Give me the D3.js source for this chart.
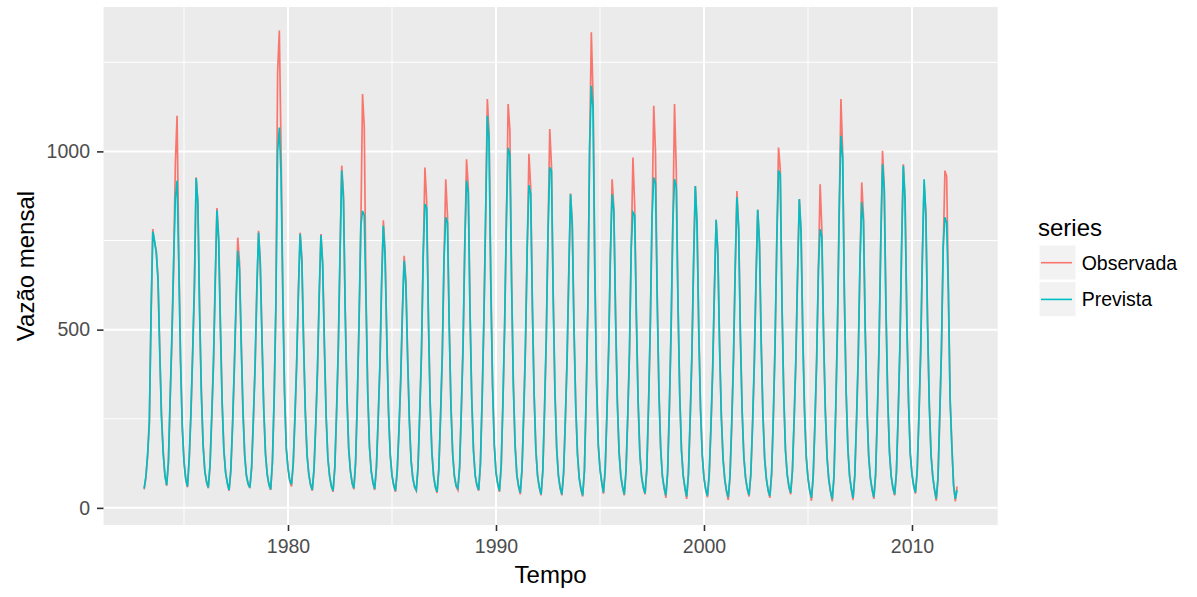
<!DOCTYPE html>
<html>
<head>
<meta charset="utf-8">
<script src="https://cdn.jsdelivr.net/npm/d3@7"></script>
<style>
body { margin: 0; background: #fff; }
text { font-family: "Liberation Sans", Arial, sans-serif; }
</style>
</head>
<body>
<script>

// monthly series, first value = Feb 1973
var startYear = 1973;
var startMonth = 2;

var observada = [
    52, 84, 145, 235, 540, 782, 745, 720, 645, 445, 262,
    159, 92, 62, 125, 300, 470, 670, 965, 1100, 700, 420, 230,
    130, 80, 58, 135, 260, 430, 610, 927, 860, 560, 330, 180,
    105, 72, 55, 115, 250, 400, 620, 841, 760, 520, 300, 165,
    100, 68, 48, 100, 225, 380, 560, 758, 690, 470, 280, 150,
    92, 66, 55, 110, 240, 390, 600, 777, 690, 480, 280, 155,
    95, 64, 50, 125, 300, 560, 1222, 1339, 1000, 620, 330, 170,
    110, 75, 60, 120, 250, 400, 600, 772, 700, 470, 270, 150,
    95, 64, 48, 105, 230, 380, 590, 768, 690, 460, 260, 140,
    90, 60, 45, 110, 260, 440, 700, 960, 880, 560, 320, 170,
    105, 68, 52, 125, 300, 520, 780, 1161, 1067, 600, 330, 175,
    105, 70, 50, 110, 240, 390, 620, 807, 720, 480, 270, 150,
    92, 62, 45, 100, 210, 350, 540, 707, 640, 430, 250, 135,
    85, 58, 48, 110, 260, 430, 700, 955, 860, 540, 300, 160,
    90, 58, 42, 105, 250, 420, 690, 922, 820, 520, 290, 155,
    90, 60, 50, 110, 270, 450, 730, 978, 900, 560, 310, 165,
    92, 62, 48, 120, 300, 520, 800, 1147, 1050, 640, 350, 180,
    100, 66, 45, 115, 290, 510, 800, 1133, 1060, 640, 350, 180,
    95, 60, 38, 105, 260, 450, 720, 993, 900, 570, 320, 165,
    90, 56, 35, 100, 270, 470, 760, 1063, 960, 600, 330, 170,
    92, 55, 35, 95, 240, 410, 650, 882, 800, 510, 290, 155,
    85, 52, 32, 100, 300, 560, 1000, 1334, 1150, 680, 360, 180,
    110, 70, 40, 105, 260, 440, 700, 922, 840, 540, 300, 160,
    90, 58, 35, 100, 250, 430, 720, 983, 850, 540, 300, 155,
    88, 56, 38, 105, 280, 500, 800, 1128, 1000, 600, 330, 170,
    90, 55, 28, 95, 270, 490, 780, 1133, 950, 580, 320, 165,
    92, 55, 25, 90, 240, 420, 680, 903, 800, 500, 280, 150,
    85, 50, 30, 90, 220, 380, 600, 808, 720, 460, 260, 140,
    80, 45, 22, 85, 230, 410, 660, 889, 790, 490, 275, 145,
    85, 52, 32, 90, 225, 395, 630, 836, 750, 470, 265, 140,
    82, 48, 28, 92, 250, 450, 740, 1011, 950, 580, 320, 165,
    95, 58, 38, 100, 240, 410, 650, 866, 780, 490, 275, 145,
    85, 48, 20, 85, 230, 410, 660, 908, 780, 490, 275, 145,
    80, 45, 18, 85, 270, 500, 820, 1147, 1000, 600, 330, 170,
    90, 52, 22, 88, 240, 420, 680, 913, 820, 510, 285, 150,
    85, 50, 25, 90, 255, 450, 740, 1002, 900, 560, 310, 160,
    90, 55, 35, 95, 250, 440, 720, 964, 870, 540, 300, 155,
    95, 60, 40, 100, 250, 430, 700, 908, 830, 520, 290, 150,
    88, 50, 20, 80, 250, 440, 720, 946, 930, 617, 309, 178,
    66, 18, 60
];

var prevista = [
    55, 88, 150, 245, 548, 775, 748, 716, 640, 436, 255,
    152, 90, 64, 130, 310, 480, 690, 870, 918, 680, 410, 225,
    128, 82, 60, 140, 270, 440, 630, 925, 850, 545, 320, 176,
    102, 74, 57, 120, 262, 412, 640, 835, 748, 505, 292, 160,
    98, 70, 50, 108, 235, 395, 575, 721, 670, 460, 270, 148,
    90, 68, 57, 115, 250, 400, 615, 772, 680, 470, 275, 150,
    93, 66, 52, 130, 310, 570, 1000, 1067, 930, 590, 320, 165,
    112, 78, 66, 125, 258, 410, 612, 768, 690, 460, 265, 146,
    93, 66, 50, 110, 238, 392, 600, 765, 680, 452, 255, 138,
    88, 62, 48, 115, 270, 450, 715, 946, 865, 548, 312, 165,
    103, 70, 55, 130, 310, 530, 790, 833, 820, 580, 320, 170,
    102, 72, 53, 115, 250, 400, 635, 791, 705, 470, 265, 146,
    90, 64, 48, 105, 220, 360, 555, 693, 628, 420, 245, 132,
    83, 60, 50, 115, 270, 440, 712, 852, 840, 530, 295, 155,
    88, 60, 45, 110, 260, 430, 700, 815, 800, 510, 285, 150,
    88, 62, 55, 115, 280, 460, 745, 918, 885, 550, 305, 160,
    90, 64, 50, 125, 310, 530, 820, 1100, 1030, 625, 345, 176,
    98, 68, 48, 120, 300, 520, 820, 1010, 990, 625, 345, 176,
    92, 62, 42, 110, 270, 460, 735, 905, 880, 560, 315, 160,
    88, 58, 38, 105, 280, 480, 775, 955, 945, 590, 325, 165,
    90, 57, 38, 100, 250, 420, 665, 880, 790, 500, 285, 150,
    83, 54, 35, 105, 310, 570, 1010, 1184, 1120, 665, 355, 176,
    108, 72, 43, 110, 270, 450, 715, 880, 830, 530, 295, 155,
    88, 60, 38, 105, 260, 440, 730, 829, 820, 530, 295, 150,
    86, 58, 41, 110, 290, 510, 815, 927, 910, 585, 325, 165,
    88, 57, 35, 100, 280, 500, 800, 922, 900, 570, 315, 160,
    90, 57, 32, 95, 250, 430, 695, 903, 790, 490, 275, 146,
    83, 52, 34, 95, 230, 390, 615, 808, 710, 450, 255, 136,
    78, 48, 30, 90, 240, 420, 675, 871, 780, 480, 270, 140,
    83, 54, 36, 95, 235, 405, 645, 836, 740, 460, 260, 136,
    80, 50, 33, 97, 260, 460, 755, 946, 935, 570, 315, 160,
    93, 60, 42, 105, 250, 420, 665, 866, 770, 480, 270, 140,
    83, 50, 28, 90, 240, 420, 670, 782, 760, 480, 270, 140,
    78, 47, 25, 90, 280, 510, 835, 1044, 980, 590, 325, 165,
    88, 54, 28, 93, 250, 430, 695, 857, 805, 500, 280, 145,
    83, 52, 30, 95, 265, 460, 755, 964, 890, 550, 305, 155,
    88, 57, 38, 100, 260, 450, 735, 960, 860, 530, 295, 150,
    93, 62, 43, 105, 260, 440, 715, 922, 820, 510, 285, 146,
    86, 52, 26, 85, 260, 450, 735, 815, 800, 600, 300, 170,
    62, 25, 50
];

var seriesNames = ["Observada", "Prevista"];
var seriesColors = ["#F8766D", "#00BFC4"];
var xTicks = [1980, 1990, 2000, 2010];
var xMinor = [1975, 1985, 1995, 2005];
var yTicks = [0, 500, 1000];
var yMinor = [250, 750, 1250];

var width = 1197, height = 597;
var pLeft = 103.5, pRight = 997.7, pTop = 7, pBottom = 525;

var svg = d3.select("body").append("svg")
    .attr("width", width)
    .attr("height", height);

var times = observada.map(function (d, i) { return startYear + (startMonth - 1 + i) / 12; });

var xExt = d3.extent(times);
var xPad = (xExt[1] - xExt[0]) * 0.05;
var x = d3.scaleLinear()
    .domain([xExt[0] - xPad, xExt[1] + xPad])
    .range([pLeft, pRight]);

var yExt = d3.extent(observada.concat(prevista));
var yPad = (yExt[1] - yExt[0]) * 0.05;
var y = d3.scaleLinear()
    .domain([yExt[0] - yPad, yExt[1] + yPad])
    .range([pBottom, pTop]);

// panel
svg.append("rect")
    .attr("x", pLeft).attr("y", pTop)
    .attr("width", pRight - pLeft).attr("height", pBottom - pTop)
    .style("fill", "#EBEBEB");

// grid
svg.selectAll("line.yminor").data(yMinor).enter().append("line")
    .attr("x1", pLeft).attr("x2", pRight)
    .attr("y1", function (d) { return y(d); }).attr("y2", function (d) { return y(d); })
    .style("stroke", "#fff").style("stroke-width", 1);
svg.selectAll("line.xminor").data(xMinor).enter().append("line")
    .attr("y1", pTop).attr("y2", pBottom)
    .attr("x1", function (d) { return x(d); }).attr("x2", function (d) { return x(d); })
    .style("stroke", "#fff").style("stroke-width", 1);
svg.selectAll("line.ymajor").data(yTicks).enter().append("line")
    .attr("x1", pLeft).attr("x2", pRight)
    .attr("y1", function (d) { return y(d); }).attr("y2", function (d) { return y(d); })
    .style("stroke", "#fff").style("stroke-width", 2);
svg.selectAll("line.xmajor").data(xTicks).enter().append("line")
    .attr("y1", pTop).attr("y2", pBottom)
    .attr("x1", function (d) { return x(d); }).attr("x2", function (d) { return x(d); })
    .style("stroke", "#fff").style("stroke-width", 2);

// lines
var line = d3.line()
    .x(function (d, i) { return x(times[i]); })
    .y(function (d) { return y(d); });

[observada, prevista].forEach(function (s, k) {
    svg.append("path")
        .datum(s)
        .attr("d", line)
        .style("fill", "none")
        .style("stroke", seriesColors[k])
        .style("stroke-width", 1.7);
});

// axes
var xAxis = svg.append("g")
    .attr("transform", "translate(0," + pBottom + ")")
    .call(d3.axisBottom(x).tickValues(xTicks).tickFormat(d3.format("d")).tickSize(6).tickPadding(8));
var yAxis = svg.append("g")
    .attr("transform", "translate(" + pLeft + ",0)")
    .call(d3.axisLeft(y).tickValues(yTicks).tickFormat(d3.format("d")).tickSize(6.5).tickPadding(7));

[xAxis, yAxis].forEach(function (g) {
    g.select(".domain").remove();
    g.selectAll(".tick line").style("stroke", "#333").style("stroke-width", 1.6);
    g.selectAll(".tick text")
        .style("fill", "#4D4D4D")
        .style("font-size", "19.5px")
        .style("font-family", "'Liberation Sans', Arial, sans-serif");
});

// titles
svg.append("text")
    .attr("x", (pLeft + pRight) / 2).attr("y", 583)
    .attr("text-anchor", "middle")
    .style("font-size", "24px")
    .text("Tempo");

svg.append("text")
    .attr("transform", "translate(34," + ((pTop + pBottom) / 2) + ") rotate(-90)")
    .attr("text-anchor", "middle")
    .style("font-size", "24px")
    .text("Vazão mensal");

// legend
var legend = svg.append("g");
legend.append("text")
    .attr("x", 1038).attr("y", 236)
    .style("font-size", "24px")
    .text("series");

var keys = legend.selectAll("g.key").data(seriesNames).enter().append("g")
    .attr("transform", function (d, i) { return "translate(1039," + (245 + i * 36.7) + ")"; });
keys.append("rect")
    .attr("width", 37).attr("height", 35)
    .style("fill", "#F2F2F2").style("stroke", "#fff").style("stroke-width", 1);
keys.append("line")
    .attr("x1", 2).attr("x2", 33)
    .attr("y1", 17.7).attr("y2", 17.7)
    .style("stroke", function (d, i) { return seriesColors[i]; })
    .style("stroke-width", 1.6);
keys.append("text")
    .attr("x", 42.7).attr("y", 17.7)
    .attr("dy", "0.35em")
    .style("font-size", "19.5px")
    .text(function (d) { return d; });

</script>
</body>
</html>
